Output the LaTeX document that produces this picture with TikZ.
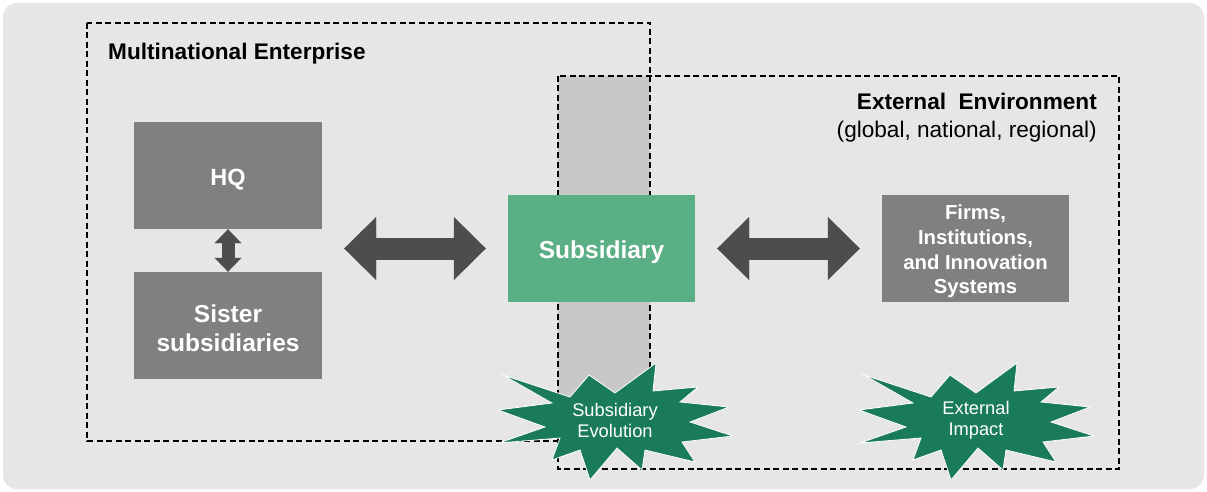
\documentclass[tikz,border=0pt]{standalone}
\usepackage{fontspec}
\setmainfont{Liberation Sans}
\usetikzlibrary{arrows.meta,calc}

\definecolor{panel}{HTML}{E6E6E6}
\definecolor{overlap}{HTML}{C8C8C8}
\definecolor{boxgray}{HTML}{808080}
\definecolor{arrowgray}{HTML}{4D4D4D}
\definecolor{subgreen}{HTML}{5BAF84}
\definecolor{burstgreen}{HTML}{1A7B58}

\tikzset{
  block/.style={fill=boxgray, inner sep=0pt,
    minimum width=188pt, minimum height=107pt},
  blocktext/.style={text=white, align=center, inner sep=0pt},
  region/.style={draw=black, line width=1.4pt, dash pattern=on 6pt off 3.5pt},
  bigarrow/.style={draw=arrowgray, line width=22pt,
    {Triangle[length=32pt,width=63pt,line width=0.4pt]}-{Triangle[length=32pt,width=63pt,line width=0.4pt]},
    shorten <=22pt, shorten >=22pt},
  smallarrow/.style={draw=arrowgray, line width=13pt,
    {Triangle[length=14pt,width=27pt,line width=0.4pt]}-{Triangle[length=14pt,width=27pt,line width=0.4pt]}},
  title/.style={inner sep=0pt, font=\fontsize{22.6}{27}\selectfont\bfseries},
  burstlabel/.style={text=white, align=center, inner sep=0pt,
    font=\fontsize{18.3}{21}\selectfont},
  burst/.pic={
    \filldraw[fill=burstgreen, draw=white, line width=0.8pt]
      (-112,-45) -- (-45,-23) -- (-26,-45) -- (0,-27) -- (41,-57) -- (38,-29)
      -- (83,-33) -- (65,-18) -- (114,-13) -- (75,2) -- (118,16) -- (67,22)
      -- (80,42) -- (30,30) -- (27,50) -- (2,28) -- (-25,60) -- (-35,30)
      -- (-63,40) -- (-55,18) -- (-116,23) -- (-70,7) -- (-117,-10) -- (-63,-17)
      -- cycle;
  }
}

\begin{document}
\begin{tikzpicture}[x=1pt,y=-1pt]
  \useasboundingbox (0,0) rectangle (1207,492);
  \fill[white] (0,0) rectangle (1207,492);
  \fill[panel, rounded corners=14pt] (3,3) rectangle (1204,489);

  % overlap of the enterprise and its environment
  \fill[overlap] (558,76) rectangle (650,441);
  \draw[region] (87,23) rectangle (650,441);
  \draw[region] (558,76) rectangle (1119,469);

  % region titles
  \node[title, anchor=base west] (mne) at (108,60) {Multinational Enterprise};
  \node[title, anchor=base east] (env) at (1097,110) {External\ \ Environment};
  \node[inner sep=0pt, anchor=base east, font=\fontsize{22.6}{27}\selectfont]
    (levels) at (1097,138) {(global, national, regional)};

  % actors
  \node[block] (hq) at (228,175.5) {};
  \node[block] (sis) at (228,325.5) {};
  \node[block, fill=subgreen, minimum width=187pt] (sub) at (601.5,248.5) {};
  \node[block, minimum width=187pt] (firms) at (975.5,248.5) {};

  \node[blocktext, font=\fontsize{23.5}{29}\selectfont\bfseries]
    (hq-text) at ([yshift=-4.5pt]hq.center) {HQ};
  \node[blocktext, font=\fontsize{24.5}{29}\selectfont\bfseries]
    (sis-text) at ([yshift=-2.5pt]sis.center) {Sister\\subsidiaries};
  \node[blocktext, font=\fontsize{24.5}{29}\selectfont\bfseries]
    (sub-text) at ([yshift=-4pt]sub.center) {Subsidiary};
  \node[blocktext, font=\fontsize{20.3}{24.7}\selectfont\bfseries]
    (firms-text) at ([yshift=-3pt]firms.center) {Firms,\\Institutions,\\and Innovation\\Systems};

  % relations
  \draw[smallarrow] (hq.south) -- (sis.north);
  \draw[bigarrow] (sub.west -| hq.east) -- (sub.west);
  \draw[bigarrow] (sub.east) -- (firms.west);

  % outcomes
  \pic at (615,420) {burst};
  \pic at (976,420) {burst};
  \node[burstlabel] (evo) at (615,420) {Subsidiary\\Evolution};
  \node[burstlabel] (impact) at (976,420) {External\\Impact};
\end{tikzpicture}
\end{document}
